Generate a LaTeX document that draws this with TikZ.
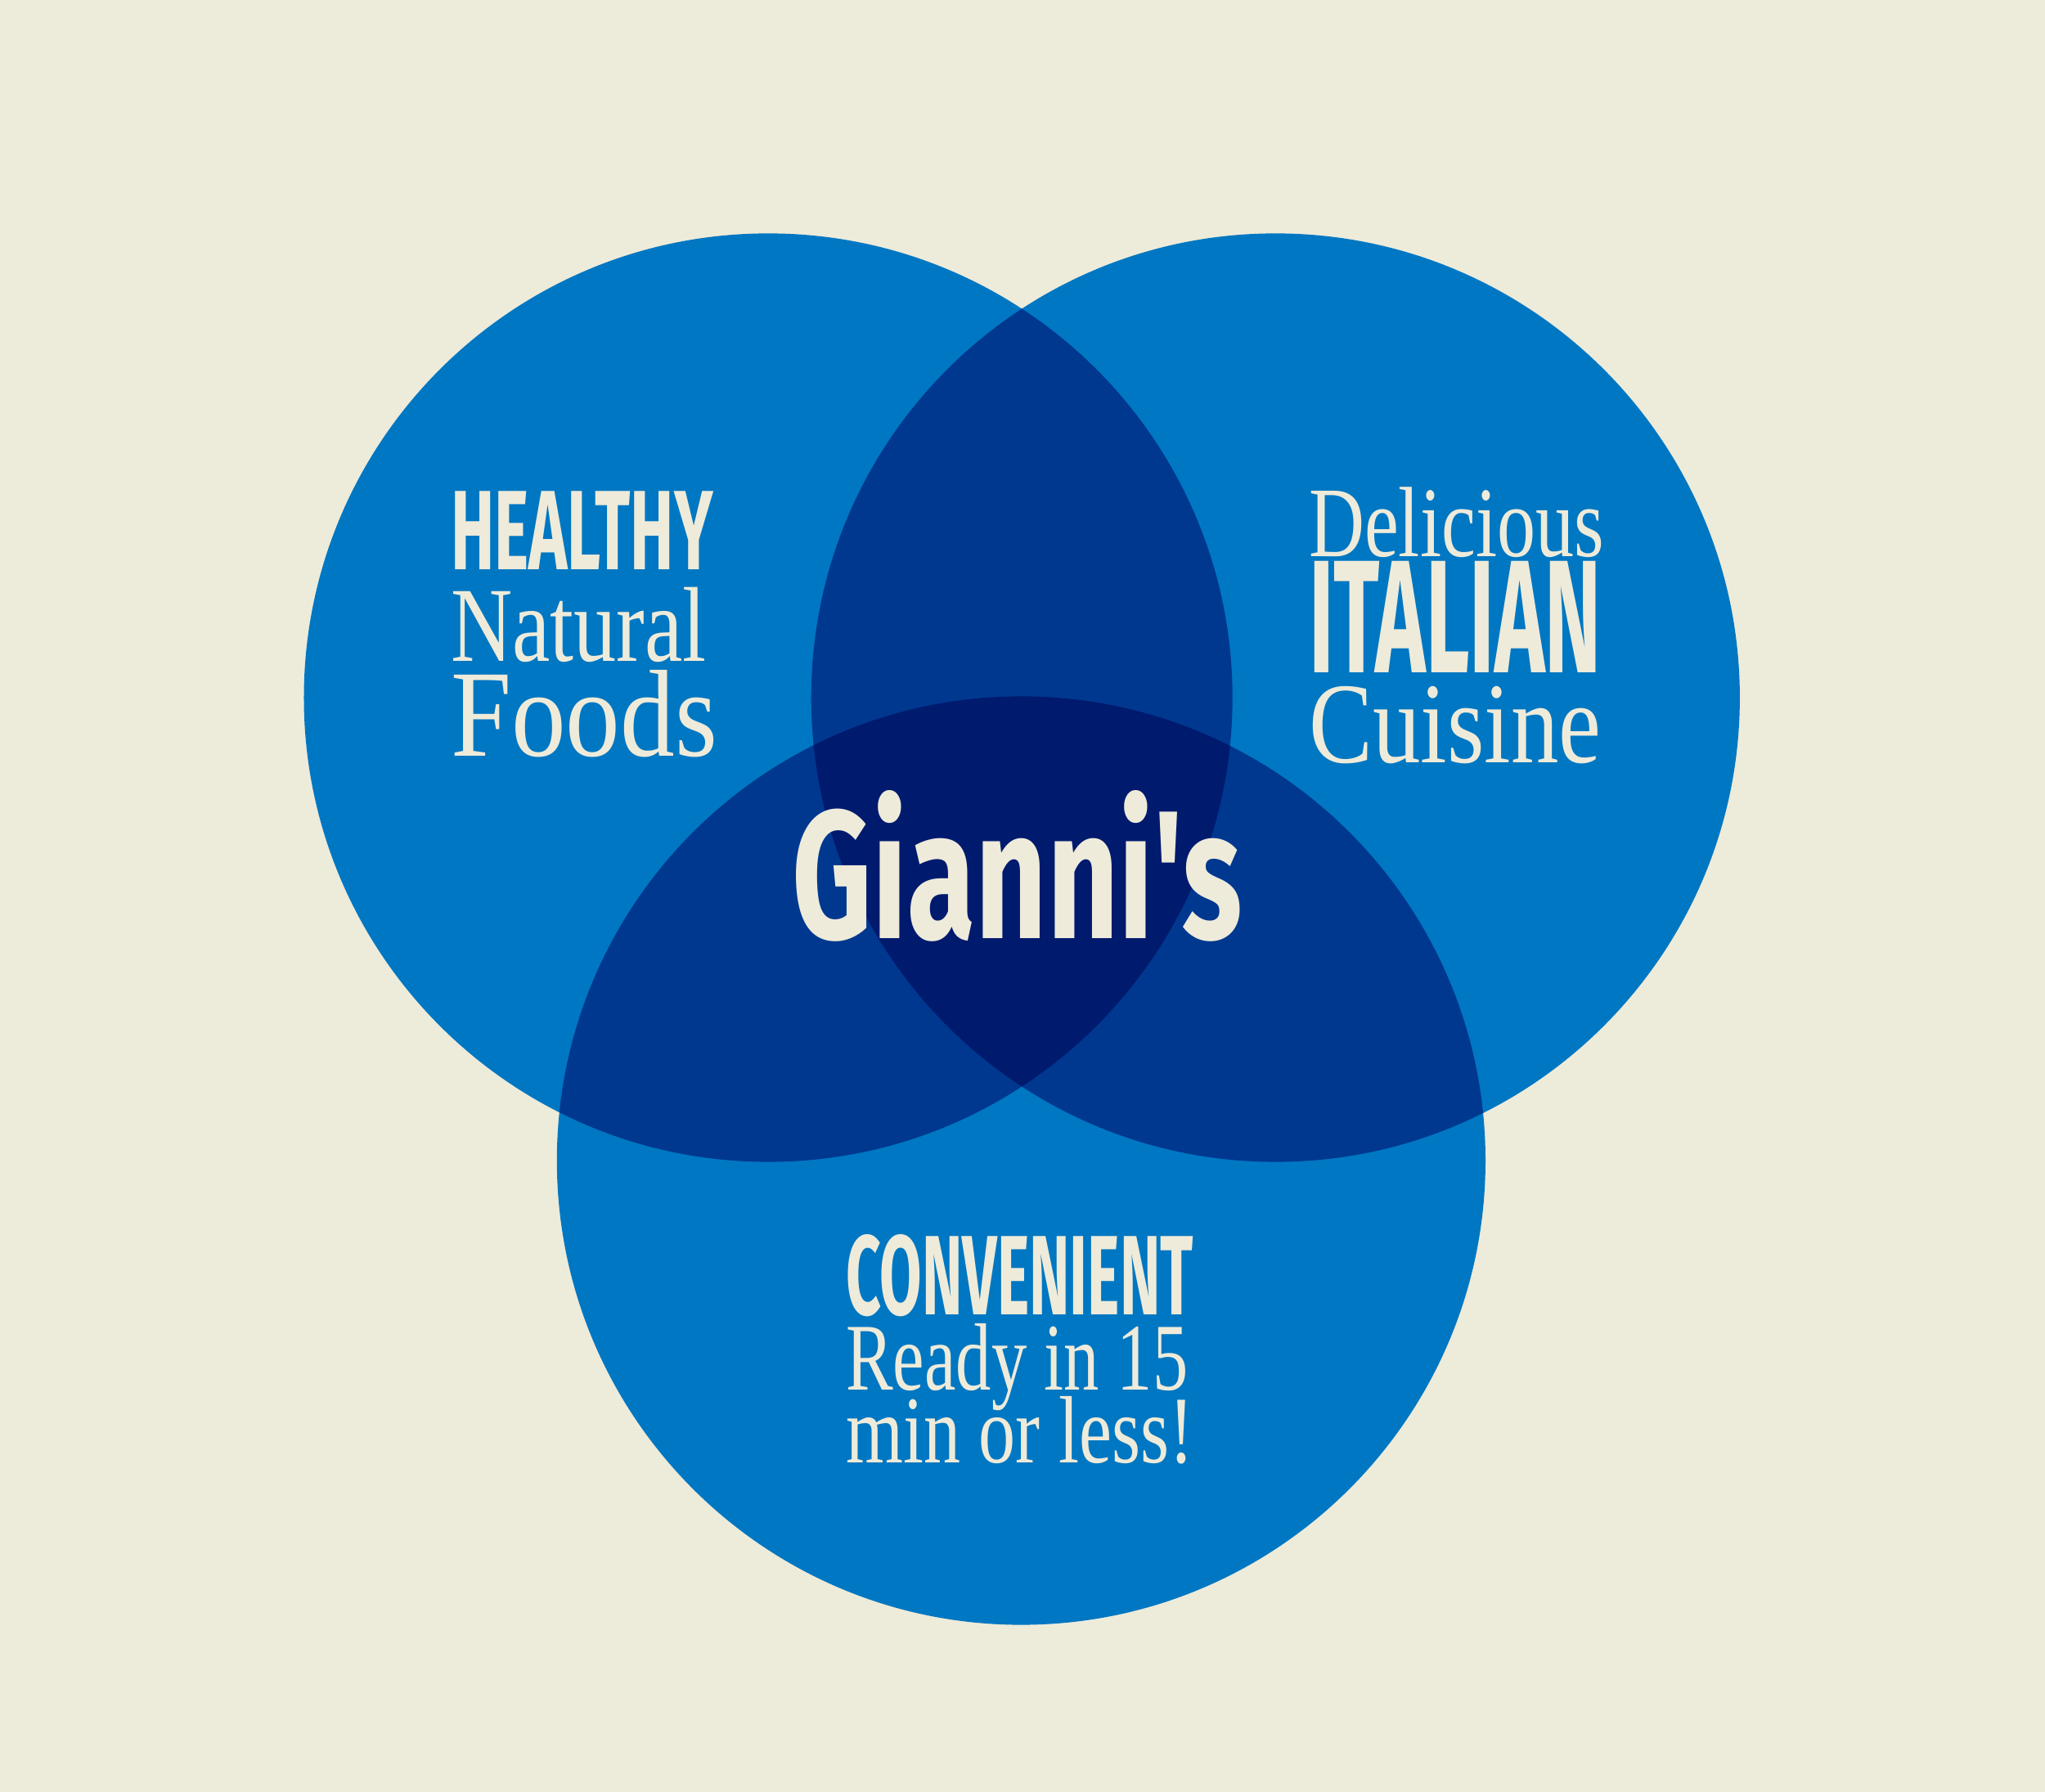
\documentclass[tikz,border=0pt]{standalone}
\usepackage{fontspec}
\usepackage{graphicx}
\setmainfont{Liberation Serif}
\newfontfamily\condf{Fira Sans}
\definecolor{bg}{HTML}{EDEBDA}
\definecolor{c1}{HTML}{0077C2}
\definecolor{c2}{HTML}{00388F}
\definecolor{c3}{HTML}{001A6E}
\definecolor{tx}{HTML}{EEEBDA}
\begin{document}
\begin{tikzpicture}[x=0.3pt,y=-0.3pt,
  lbl/.style={text=tx,inner sep=0pt,anchor=base west}]
\fill[bg] (0,0) rectangle (1568,1374);
\useasboundingbox (0,0) rectangle (1568,1374);
\def\R{356}
\coordinate (A) at (589,535);
\coordinate (B) at (978,535);
\coordinate (C) at (783,890);
\fill[c1] (A) circle (\R); \fill[c1] (B) circle (\R); \fill[c1] (C) circle (\R);
\begin{scope}\clip (A) circle (\R); \fill[c2] (B) circle (\R); \fill[c2] (C) circle (\R);\end{scope}
\begin{scope}\clip (B) circle (\R); \fill[c2] (C) circle (\R);\end{scope}
\begin{scope}\clip (A) circle (\R); \clip (B) circle (\R); \fill[c3] (C) circle (\R);\end{scope}
\node[lbl] (h1) at (345,437) {\scalebox{0.58}[1]{\condf\bfseries\fontsize{26}{26}\selectfont HEALTHY}};
\node[lbl] (h2) at (345,507) {\scalebox{0.8}[1]{\fontsize{24.5}{24.5}\selectfont Natural}};
\node[lbl] (h3) at (345,580) {\scalebox{0.88}[1]{\fontsize{28.5}{28.5}\selectfont Foods}};
\node[lbl] (d1) at (1003,427) {\scalebox{0.77}[1]{\fontsize{23}{23}\selectfont Delicious}};
\node[lbl] (d2) at (1003,516) {\scalebox{0.53}[1]{\condf\bfseries\fontsize{37}{37}\selectfont ITALIAN}};
\node[lbl] (d3) at (1003,585) {\scalebox{0.83}[1]{\fontsize{26.5}{26.5}\selectfont Cuisine}};
\node[lbl] (c1n) at (648,1008) {\scalebox{0.54}[1]{\condf\bfseries\fontsize{26}{26}\selectfont CONVENIENT}};
\node[lbl] (c2n) at (648,1066) {\scalebox{0.74}[1]{\fontsize{22}{22}\selectfont Ready in 15}};
\node[lbl] (c3n) at (648,1122) {\scalebox{0.77}[1]{\fontsize{22}{22}\selectfont min or less!}};
\node[text=tx,inner sep=0pt] (g) at (780,664) {\scalebox{0.68}[1]{\condf\bfseries\fontsize{42}{42}\selectfont Gianni's}};
\end{tikzpicture}
\end{document}
